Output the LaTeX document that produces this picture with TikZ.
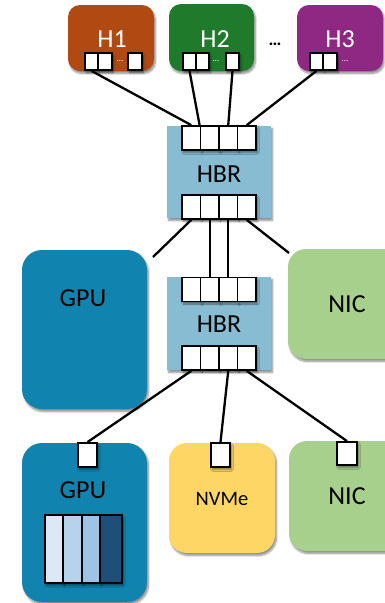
\documentclass[tikz,border=0pt]{standalone}
\usepackage{fontspec}
\setmainfont{Carlito}
\usetikzlibrary{shadows.blur,calc}

\definecolor{hostA}{RGB}{176,74,18}
\definecolor{hostB}{RGB}{32,122,44}
\definecolor{hostC}{RGB}{142,40,130}
\definecolor{bridge}{RGB}{135,188,210}
\definecolor{gpu}{RGB}{16,131,174}
\definecolor{nic}{RGB}{168,208,141}
\definecolor{nvme}{RGB}{253,214,102}
\definecolor{memA}{RGB}{220,232,244}
\definecolor{memB}{RGB}{185,210,236}
\definecolor{memC}{RGB}{157,195,230}
\definecolor{memD}{RGB}{31,78,121}

\begin{document}
\begin{tikzpicture}[x=1pt,y=-1pt,
  softshadow/.style={blur shadow={shadow xshift=1.5pt,shadow yshift=-2.5pt,shadow blur steps=6,shadow opacity=45}},
  unitbox/.style={inner sep=0, softshadow, rounded corners=#1},
  bridgebox/.style={inner sep=0, softshadow, fill=bridge, minimum width=104pt, minimum height=92pt},
  hport/.style={draw=black, line width=1.8pt, fill=white, inner sep=0, minimum width=13.5pt, minimum height=17pt, softshadow},
  bport/.style={draw=black, line width=1.8pt, fill=white, inner sep=0, minimum width=18.5pt, minimum height=24pt, softshadow},
  dport/.style={draw=black, line width=1.8pt, fill=white, inner sep=0, minimum width=19pt, minimum height=24pt, softshadow},
  memcell/.style={draw=black, line width=1.8pt, inner sep=0, minimum height=68pt, softshadow},
  lbl/.style={inner sep=0, font=\fontsize{26}{30}\selectfont},
  tinydots/.style={inner sep=0, font=\fontsize{9}{9}\selectfont},
  link/.style={line width=2.3pt, draw=black}
]
\useasboundingbox (0,0) rectangle (385,603);

% hosts
\node[unitbox=12pt, fill=hostA, minimum width=86pt, minimum height=66pt] (h1) at (111,38) {};
\node[unitbox=12pt, fill=hostB, minimum width=85pt, minimum height=67pt] (h2) at (211.5,37.5) {};
\node[unitbox=12pt, fill=hostC, minimum width=86pt, minimum height=66pt] (h3) at (340,38) {};
\node[lbl, text=white] (h1t) at (112,39) {H1};
\node[lbl, text=white] (h2t) at (215,39) {H2};
\node[lbl, text=white] (h3t) at (340,39) {H3};
\node[inner sep=0, font=\fontsize{18}{18}\bfseries] (hdots) at (275,44) {\ldots};

% host ports
\node[hport] (a1) at (91.5,61.5) {};
\node[hport] (a2) at (105,61.5) {};
\node[tinydots, text=white] (ad) at (120,61) {\ldots};
\node[hport] (a3) at (135,61.5) {};
\node[hport] (b1) at (189.5,61.5) {};
\node[hport] (b2) at (202.5,61.5) {};
\node[tinydots, text=white] (bd) at (216,61) {\ldots};
\node[hport] (b3) at (232.5,61.5) {};
\node[hport] (c1) at (316.5,61.5) {};
\node[hport] (c2) at (330,61.5) {};
\node[tinydots, text=white] (cd) at (345,61) {\ldots};

% upper bridge
\node[bridgebox] (hbrA) at (219,172) {};
\node[lbl] (hbrAt) at (219,174) {HBR};
\foreach \i/\x in {1/191.25,2/209.75,3/228.25,4/246.75}{
  \node[bport] (ut\i) at (\x,138) {};
  \node[bport] (ub\i) at (\x,207) {};
}

% lower bridge
\node[bridgebox, minimum height=93pt] (hbrB) at (219,323.5) {};
\node[lbl] (hbrBt) at (219,324) {HBR};
\foreach \i/\x in {1/191.25,2/209.75,3/228.25,4/246.75}{
  \node[bport] (lt\i) at (\x,289.5) {};
  \node[bport] (lb\i) at (\x,358) {};
}

% devices beside the bridges
\node[unitbox=20pt, fill=gpu, minimum width=125pt, minimum height=159pt] (gpuA) at (84.5,329.5) {};
\node[lbl] (gpuAt) at (83,298) {GPU};
\node[unitbox=18pt, fill=nic, minimum width=120pt, minimum height=110pt] (nicA) at (348,304) {};
\node[lbl] (nicAt) at (347,304) {NIC};

% devices below
\node[unitbox=20pt, fill=gpu, minimum width=125pt, minimum height=159pt] (gpuB) at (84.5,522.5) {};
\node[lbl] (gpuBt) at (83,490) {GPU};
\node[memcell, fill=memA, minimum width=18pt] (m1) at (54,549) {};
\node[memcell, fill=memB, minimum width=19pt] (m2) at (72.5,549) {};
\node[memcell, fill=memC, minimum width=18pt] (m3) at (91,549) {};
\node[memcell, fill=memD, minimum width=22pt] (m4) at (111,549) {};
\node[dport] (gp) at (87.5,455) {};

\node[unitbox=18pt, fill=nvme, minimum width=106pt, minimum height=110pt] (nv) at (222,498) {};
\node[inner sep=0, font=\fontsize{20.5}{24}\selectfont] (nvt) at (222,499) {NVMe};
\node[dport] (np) at (220.5,455) {};

\node[unitbox=18pt, fill=nic, minimum width=120pt, minimum height=110pt] (nicB) at (349,496) {};
\node[lbl] (nicBt) at (347,496) {NIC};
\node[dport, minimum width=20pt, minimum height=23pt] (cp) at (347,453.5) {};

% free ends of the links towards the side devices
\coordinate (toGpu) at (153,257);
\coordinate (toNic) at (289,253);

% links
\draw[link] (a1.south) -- (ut1.north);
\draw[link] (b1.south) -- (ut2.north west);
\draw[link] (b3.south) -- (ut3.north);
\draw[link] (c1.south) -- (ut4.north);

\draw[link] (ub1.south) -- (toGpu);
\draw[link] (ub2.south) -- (lt2.north);
\draw[link] (ub3.south) -- (lt3.north);
\draw[link] (ub4.south) -- (toNic);

\draw[link] (lb1.south) -- (gp.north);
\draw[link] (lb3.south) -- (np.north);
\draw[link] (lb4.south) -- (cp.north);
\end{tikzpicture}
\end{document}
